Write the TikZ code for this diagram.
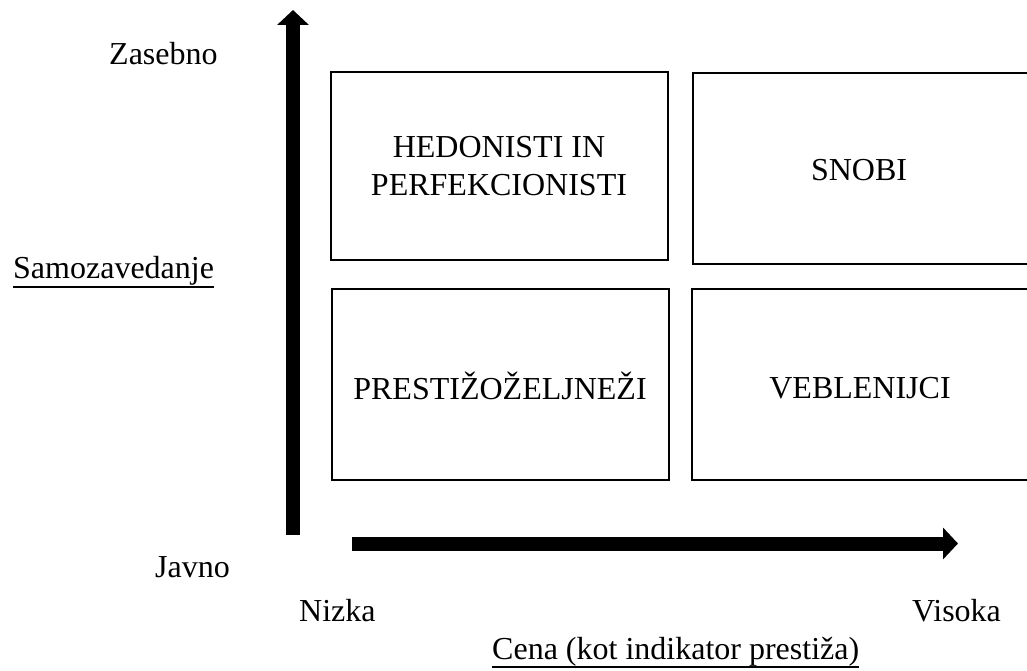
\documentclass[tikz,border=0pt]{standalone}
\usepackage{fontspec}
\setmainfont{Liberation Serif}
\usetikzlibrary{arrows.meta}
\begin{document}
\begin{tikzpicture}[x=1pt,y=-1pt,
  lbl/.style={font=\fontsize{32}{38}\selectfont, inner sep=0pt, anchor=base west},
  quad/.style={draw=black, line width=2.8pt, fill=none},
  qtext/.style={font=\fontsize{32}{38}\selectfont, align=center, inner sep=0pt},
  bigarrow/.style={line width=14pt, -{Triangle[width=31pt,length=15pt]}},
  uline/.style={line width=2.2pt}]
\useasboundingbox (0,0) rectangle (1027,671);
\clip (0,0) rectangle (1027,671);
% quadrant boxes
\draw[quad] (331,72) rectangle (668,260);
\draw[quad] (693,73) rectangle (1032,264);
\draw[quad] (332,289) rectangle (669,480);
\draw[quad] (692,289) rectangle (1032,480);
\node[qtext] (hed) at (499,166) {HEDONISTI IN\\PERFEKCIONISTI};
\node[qtext] (snob) at (859,170) {SNOBI};
\node[qtext] (pres) at (500,386) {PRESTIŽOŽELJNEŽI};
\node[qtext] (veb) at (860,388) {VEBLENIJCI};
% axes
\coordinate (vs) at (293,535);
\coordinate (ve) at (293,10);
\coordinate (hs) at (352,543.5);
\coordinate (he) at (958,543.5);
\draw[bigarrow] (vs) -- (ve);
\draw[bigarrow] (hs) -- (he);
% labels
\node[lbl] (zas) at (109,65) {Zasebno};
\node[lbl] (samo) at (13,278) {Samozavedanje};
\draw[uline] ([yshift=-9pt]samo.base west) -- ([yshift=-9pt]samo.base east);
\node[lbl] (jav) at (155,577) {Javno};
\node[lbl] (niz) at (299,621) {Nizka};
\node[lbl] (vis) at (912,621) {Visoka};
\node[lbl] (cena) at (492,659) {Cena (kot indikator prestiža)};
\draw[uline] ([yshift=-8pt]cena.base west) -- ([yshift=-8pt]cena.base east);
\end{tikzpicture}
\end{document}
